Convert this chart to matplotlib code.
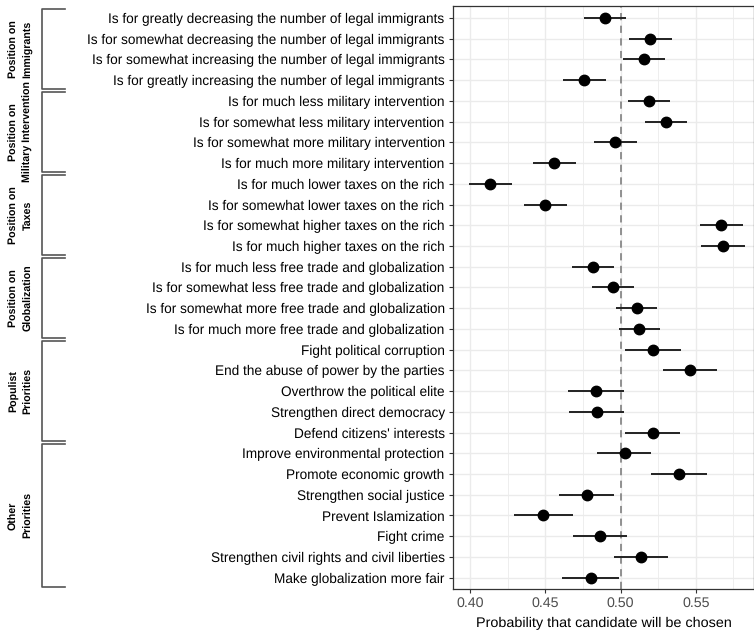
import numpy as np
import matplotlib
matplotlib.use("Agg")
import matplotlib.pyplot as plt
import matplotlib.transforms as mtransforms

plt.rcParams['font.family'] = ['Liberation Sans', 'DejaVu Sans']
plt.rcParams['text.hinting'] = 'no_hinting'

labels = [
    "Is for greatly decreasing the number of legal immigrants",
    "Is for somewhat decreasing the number of legal immigrants",
    "Is for somewhat increasing the number of legal immigrants",
    "Is for greatly increasing the number of legal immigrants",
    "Is for much less military intervention",
    "Is for somewhat less military intervention",
    "Is for somewhat more military intervention",
    "Is for much more military intervention",
    "Is for much lower taxes on the rich",
    "Is for somewhat lower taxes on the rich",
    "Is for somewhat higher taxes on the rich",
    "Is for much higher taxes on the rich",
    "Is for much less free trade and globalization",
    "Is for somewhat less free trade and globalization",
    "Is for somewhat more free trade and globalization",
    "Is for much more free trade and globalization",
    "Fight political corruption",
    "End the abuse of power by the parties",
    "Overthrow the political elite",
    "Strengthen direct democracy",
    "Defend citizens' interests",
    "Improve environmental protection",
    "Promote economic growth",
    "Strengthen social justice",
    "Prevent Islamization",
    "Fight crime",
    "Strengthen civil rights and civil liberties",
    "Make globalization more fair",
]

estimate = [0.4894, 0.5197, 0.5159, 0.4760, 0.5190, 0.5300, 0.4965, 0.4561,
            0.4132, 0.4501, 0.5671, 0.5682, 0.4817, 0.4950, 0.5110, 0.5126,
            0.5219, 0.5462, 0.4834, 0.4843, 0.5214, 0.5029, 0.5389, 0.4775,
            0.4486, 0.4866, 0.5135, 0.4804]
lower = [0.4755, 0.5058, 0.5018, 0.4619, 0.5049, 0.5162, 0.4821, 0.4417,
         0.3990, 0.4358, 0.5530, 0.5536, 0.4678, 0.4811, 0.4973, 0.4993,
         0.5033, 0.5281, 0.4654, 0.4660, 0.5033, 0.4846, 0.5203, 0.4594,
         0.4289, 0.4682, 0.4956, 0.4614]
upper = [0.5038, 0.5340, 0.5298, 0.4903, 0.5331, 0.5442, 0.5108, 0.4702,
         0.4276, 0.4645, 0.5815, 0.5830, 0.4956, 0.5090, 0.5245, 0.5263,
         0.5400, 0.5642, 0.5020, 0.5025, 0.5395, 0.5205, 0.5572, 0.4958,
         0.4682, 0.5046, 0.5316, 0.4991]

groups = ["Position on\nImmigrants", "Position on\nMilitary Intervention",
          "Position on\nTaxes", "Position on\nGlobalization",
          "Populist\nPriorities", "Other\nPriorities"]
group_sizes = [4, 4, 4, 4, 5, 7]

fig = plt.figure(figsize=(7.54, 6.33), dpi=100)
ax = fig.add_axes([453/754, 44/633, 301/754, 583/633])

y = np.arange(len(labels))
ax.hlines(y, lower, upper, color='#222222', linewidth=1.4, zorder=3)
ax.plot(estimate, y, 'o', color='black', markersize=7.5, zorder=4)
ax.axvline(0.5, color='#888888', linestyle=(0, (4, 3)), linewidth=1.3, zorder=2)

ax.set_xlim(0.3887, 0.5887)
ax.set_ylim(27.55, -0.58)
ax.set_xticks([0.40, 0.45, 0.50, 0.55])
ax.set_xticklabels(["0.40", "0.45", "0.50", "0.55"])
ax.set_xticks([0.425, 0.475, 0.525, 0.575], minor=True)
ax.set_yticks(y)
ax.set_yticklabels(labels)
ax.tick_params(axis='both', colors='#333333', length=3, width=0.8)
ax.tick_params(axis='y', labelcolor='black', labelsize=9.8, pad=3)
ax.tick_params(axis='x', labelcolor='#4d4d4d', labelsize=10.2, pad=2.5)
ax.tick_params(which='minor', length=0)
ax.grid(True, which='major', color='#ebebeb', linewidth=1.0, zorder=0)
ax.grid(True, which='minor', axis='x', color='#ebebeb', linewidth=0.6, zorder=0)
ax.set_axisbelow(True)
for s in ax.spines.values():
    s.set_color('#333333')
    s.set_linewidth(0.9)
ax.set_xlabel("Probability that candidate will be chosen", fontsize=10.4, labelpad=5)

# group brackets on the left
trans = mtransforms.blended_transform_factory(fig.transFigure, ax.transData)
x_line = 42/754
x_tick = 65/754
gap = 0.07
start = 0
for g, n in zip(groups, group_sizes):
    top = start - 0.5 + gap
    bot = start + n - 1 + 0.5 - gap
    ax.plot([x_tick, x_line, x_line, x_tick], [top, top, bot, bot],
            color='#555555', linewidth=1.2, transform=trans, clip_on=False)
    ax.text(21/754, (top + bot) / 2, g, transform=trans, rotation=90,
            ha='center', va='center', fontsize=7.7, fontweight='bold',
            linespacing=1.5)
    start += n

plt.savefig("out.png", dpi=100)
